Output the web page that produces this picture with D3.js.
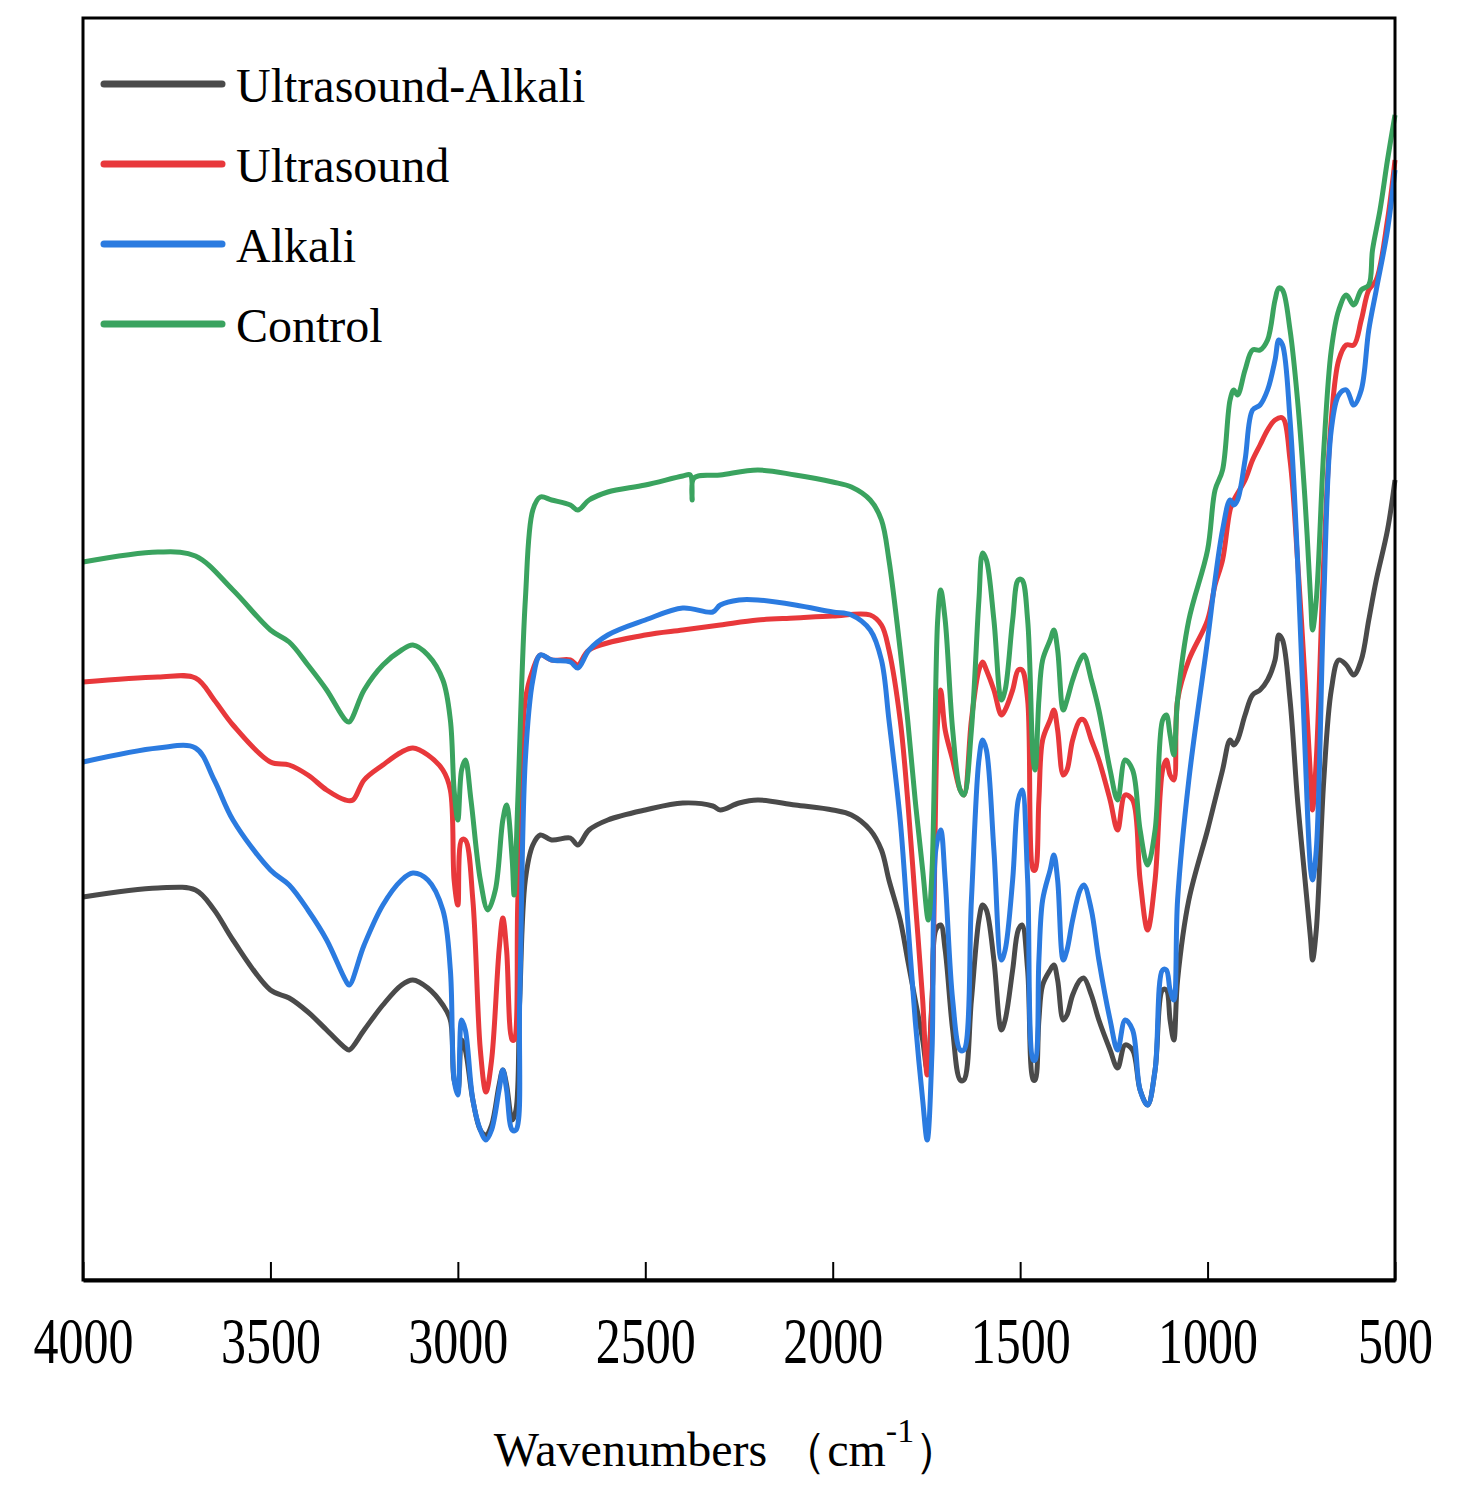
<!DOCTYPE html>
<html>
<head>
<meta charset="utf-8">
<script src="https://cdn.jsdelivr.net/npm/d3@7"></script>
<style>body{margin:0;background:#fff;}</style>
</head>
<body>
<script>
// readings: [wavenumber, signal depth (a.u., larger = lower on chart)]
var control = [[4000,562],[3800,552],[3700,556],[3600,590],[3500,630],[3450,642],[3400,665],[3350,690],[3300,720],[3290,722],[3250,690],[3200,665],[3150,650],[3120,645],[3080,655],[3040,680],[3020,720],[3010,790],[3000,820],[2990,770],[2980,760],[2965,800],[2940,880],[2920,910],[2900,890],[2880,820],[2870,805],[2855,860],[2850,895],[2840,800],[2820,600],[2800,510],[2780,497],[2750,500],[2700,505],[2680,510],[2650,500],[2600,492],[2500,485],[2400,476],[2380,475],[2375,500],[2370,478],[2300,475],[2200,470],[2100,475],[2000,482],[1950,487],[1900,500],[1870,520],[1850,560],[1820,650],[1800,720],[1780,800],[1760,870],[1745,920],[1735,870],[1720,620],[1712,590],[1700,620],[1680,730],[1660,790],[1650,795],[1630,730],[1610,600],[1600,553],[1590,560],[1570,620],[1550,700],[1540,690],[1520,620],[1505,580],[1495,580],[1480,620],[1465,760],[1460,770],[1450,700],[1440,660],[1420,640],[1410,630],[1400,650],[1385,710],[1375,700],[1360,680],[1340,660],[1330,655],[1310,680],[1290,710],[1260,770],[1240,800],[1220,760],[1200,770],[1180,830],[1160,865],[1140,830],[1120,720],[1110,715],[1100,735],[1090,755],[1080,700],[1050,620],[1000,550],[980,490],[960,470],[940,400],[930,390],[920,395],[900,370],[880,350],[860,350],[840,340],[820,300],[810,288],[800,290],[780,330],[760,400],[740,500],[725,600],[720,630],[710,600],[690,450],[670,350],[650,310],[630,295],[610,305],[590,290],[570,285],[560,250],[540,210],[520,160],[500,115]];
var ultrasound = [[4000,682],[3800,677],[3700,678],[3650,700],[3600,725],[3500,762],[3450,765],[3400,775],[3350,790],[3300,800],[3280,800],[3250,780],[3200,765],[3150,752],[3120,748],[3080,755],[3040,770],[3020,790],[3010,880],[3000,905],[2990,840],[2980,840],[2960,900],[2940,1050],[2925,1092],[2910,1060],[2890,950],[2880,918],[2870,950],[2855,1040],[2850,1040],[2840,900],[2820,700],[2800,670],[2780,655],[2750,660],[2700,660],[2680,665],[2650,650],[2500,635],[2400,630],[2300,625],[2200,620],[2100,618],[2000,616],[1900,615],[1870,625],[1850,650],[1820,720],[1800,800],[1780,900],[1760,1000],[1748,1075],[1735,1000],[1720,720],[1712,690],[1700,730],[1680,760],[1660,790],[1650,795],[1630,720],[1610,670],[1600,662],[1590,670],[1570,690],[1550,715],[1540,710],[1520,690],[1505,670],[1495,670],[1480,700],[1465,870],[1460,870],[1450,800],[1440,740],[1420,720],[1410,710],[1400,730],[1385,775],[1375,770],[1360,740],[1340,720],[1330,720],[1310,740],[1290,760],[1260,800],[1240,830],[1220,795],[1200,800],[1180,880],[1160,930],[1140,880],[1120,770],[1110,760],[1100,775],[1090,780],[1080,700],[1050,660],[1000,620],[980,585],[960,560],[940,510],[930,500],[900,480],[880,460],[860,445],[840,430],[820,420],[800,418],[780,460],[760,560],[740,680],[725,780],[720,810],[710,760],[690,560],[670,420],[650,360],[630,345],[610,345],[590,320],[570,290],[550,280],[520,220],[500,160]];
var alkali = [[4000,762],[3800,748],[3700,748],[3650,780],[3600,820],[3500,870],[3450,885],[3400,910],[3350,940],[3300,980],[3290,985],[3250,945],[3200,905],[3150,880],[3120,873],[3080,880],[3040,910],[3020,970],[3010,1080],[3000,1095],[2990,1020],[2980,1030],[2960,1100],[2940,1130],[2925,1140],[2910,1130],[2890,1090],[2880,1070],[2870,1090],[2855,1130],[2845,1130],[2835,1000],[2820,760],[2800,680],[2780,655],[2750,660],[2700,662],[2680,668],[2650,650],[2600,635],[2500,620],[2400,608],[2320,612],[2300,605],[2250,600],[2200,600],[2100,605],[2000,612],[1950,615],[1900,630],[1870,660],[1850,720],[1820,820],[1800,920],[1780,1020],[1760,1100],[1748,1140],[1735,1050],[1725,850],[1712,830],[1700,880],[1680,1000],[1660,1050],[1650,1050],[1630,900],[1610,760],[1600,740],[1590,750],[1570,850],[1550,960],[1540,950],[1520,880],[1505,800],[1495,790],[1480,880],[1465,1060],[1460,1060],[1450,960],[1440,900],[1420,870],[1410,855],[1400,880],[1385,960],[1375,950],[1360,920],[1340,890],[1330,885],[1310,910],[1290,960],[1260,1020],[1240,1050],[1220,1020],[1200,1030],[1180,1090],[1160,1105],[1140,1070],[1120,970],[1110,970],[1100,990],[1090,1000],[1080,900],[1050,780],[1000,640],[980,580],[960,530],[940,500],[930,505],[920,500],[900,460],[880,410],[860,405],[840,390],[820,360],[810,340],[800,345],[780,420],[760,560],[740,750],[725,870],[720,880],[710,850],[690,600],[670,430],[650,395],[630,390],[610,405],[590,390],[570,330],[550,290],[520,230],[500,170]];
var ultrasoundAlkali = [[4000,897],[3800,888],[3700,890],[3650,910],[3600,940],[3500,990],[3450,998],[3400,1012],[3350,1030],[3300,1048],[3290,1050],[3250,1030],[3200,1005],[3150,985],[3120,980],[3080,988],[3040,1005],[3020,1020],[3010,1080],[3000,1090],[2990,1040],[2980,1050],[2960,1100],[2940,1130],[2925,1135],[2910,1125],[2890,1085],[2880,1070],[2870,1085],[2855,1120],[2845,1110],[2835,1000],[2820,880],[2800,845],[2780,835],[2750,840],[2700,838],[2680,845],[2650,830],[2600,820],[2500,810],[2400,803],[2320,806],[2300,810],[2250,803],[2200,800],[2100,805],[2000,810],[1950,815],[1900,830],[1870,850],[1850,880],[1820,920],[1800,960],[1780,1000],[1760,1040],[1748,1070],[1735,1000],[1725,930],[1712,925],[1700,950],[1680,1030],[1660,1080],[1650,1080],[1630,1000],[1610,920],[1600,905],[1590,910],[1570,960],[1550,1030],[1540,1020],[1520,970],[1505,930],[1495,925],[1480,970],[1465,1080],[1460,1080],[1450,1020],[1440,985],[1420,970],[1410,965],[1400,980],[1385,1020],[1375,1015],[1360,995],[1340,980],[1330,978],[1310,995],[1290,1020],[1260,1050],[1240,1068],[1220,1045],[1200,1050],[1180,1090],[1160,1105],[1140,1070],[1120,990],[1110,990],[1100,1020],[1090,1040],[1080,980],[1050,900],[1000,830],[980,800],[960,770],[940,740],[930,745],[920,740],[900,715],[880,695],[860,690],[840,680],[820,660],[810,635],[800,640],[780,700],[760,800],[740,880],[725,940],[720,960],[710,930],[690,780],[670,690],[650,660],[630,665],[610,675],[590,660],[570,620],[550,580],[520,530],[500,480]];

var seriesNames = ["Ultrasound-Alkali", "Ultrasound", "Alkali", "Control"];
var seriesColors = ["#4a4a4a", "#e8383b", "#2b7be0", "#3aa35f"];
var seriesData = [ultrasoundAlkali, ultrasound, alkali, control];
var xTicks = [4000, 3500, 3000, 2500, 2000, 1500, 1000, 500];

var svg = d3.select("body").append("svg")
	.attr("width", 1469).attr("height", 1496);

var plotLeft = 83, plotRight = 1395, plotTop = 18, plotBottom = 1280;

var x = d3.scaleLinear().domain([4000, 500]).range([plotLeft, plotRight]);
var y = d3.scaleLinear().domain([18, 1280]).range([plotTop, plotBottom]);

var line = d3.line()
	.x(function(d){ return x(d[0]); })
	.y(function(d){ return y(d[1]); })
	.curve(d3.curveCatmullRom.alpha(0.5));

svg.selectAll(".series")
	.data(seriesData)
	.enter()
	.append("path")
	.attr("class", "series")
	.attr("d", line)
	.attr("fill", "none")
	.attr("stroke", function(d, i){ return seriesColors[i]; })
	.attr("stroke-width", 5)
	.attr("stroke-linejoin", "round");

// frame
svg.append("rect")
	.attr("x", plotLeft).attr("y", plotTop)
	.attr("width", plotRight - plotLeft).attr("height", plotBottom - plotTop)
	.attr("fill", "none").attr("stroke", "#000").attr("stroke-width", 3);

// bottom axis, ticks pointing inward
var xAxis = svg.append("g")
	.attr("transform", "translate(0," + plotBottom + ")")
	.call(d3.axisBottom(x).tickValues(xTicks).tickSizeInner(-18).tickSizeOuter(0).tickFormat(d3.format("d")));
xAxis.select(".domain").attr("stroke-width", 4);
xAxis.selectAll(".tick line").attr("stroke-width", 2);
xAxis.selectAll(".tick text").remove();

xAxis.selectAll(".tick").append("text")
	.attr("transform", "translate(0,83) scale(1,1.3)")
	.attr("text-anchor", "middle")
	.attr("fill", "#000")
	.style("font-family", "'Liberation Serif', serif")
	.style("font-size", "50px")
	.text(function(d){ return d; });

var title = svg.append("text")
	.attr("x", 728).attr("y", 1466)
	.attr("text-anchor", "middle")
	.style("font-family", "'Liberation Serif', serif")
	.style("font-size", "48px");
title.append("tspan").text("Wavenumbers\u00a0\uff08cm");
title.append("tspan").attr("dy", -24).style("font-size", "34px").text("-1");
title.append("tspan").attr("dy", 24).text("\uff09");

// legend
var legend = svg.selectAll(".legend")
	.data(seriesNames)
	.enter()
	.append("g")
	.attr("class", "legend")
	.attr("transform", function(d, i){ return "translate(104," + (84 + i * 80) + ")"; });
legend.append("line")
	.attr("x1", 0).attr("x2", 118)
	.attr("stroke", function(d, i){ return seriesColors[i]; })
	.attr("stroke-width", 7)
	.attr("stroke-linecap", "round");
legend.append("text")
	.attr("x", 132).attr("y", 18)
	.style("font-family", "'Liberation Serif', serif")
	.style("font-size", "48px")
	.text(function(d){ return d; });
</script>
</body>
</html>
